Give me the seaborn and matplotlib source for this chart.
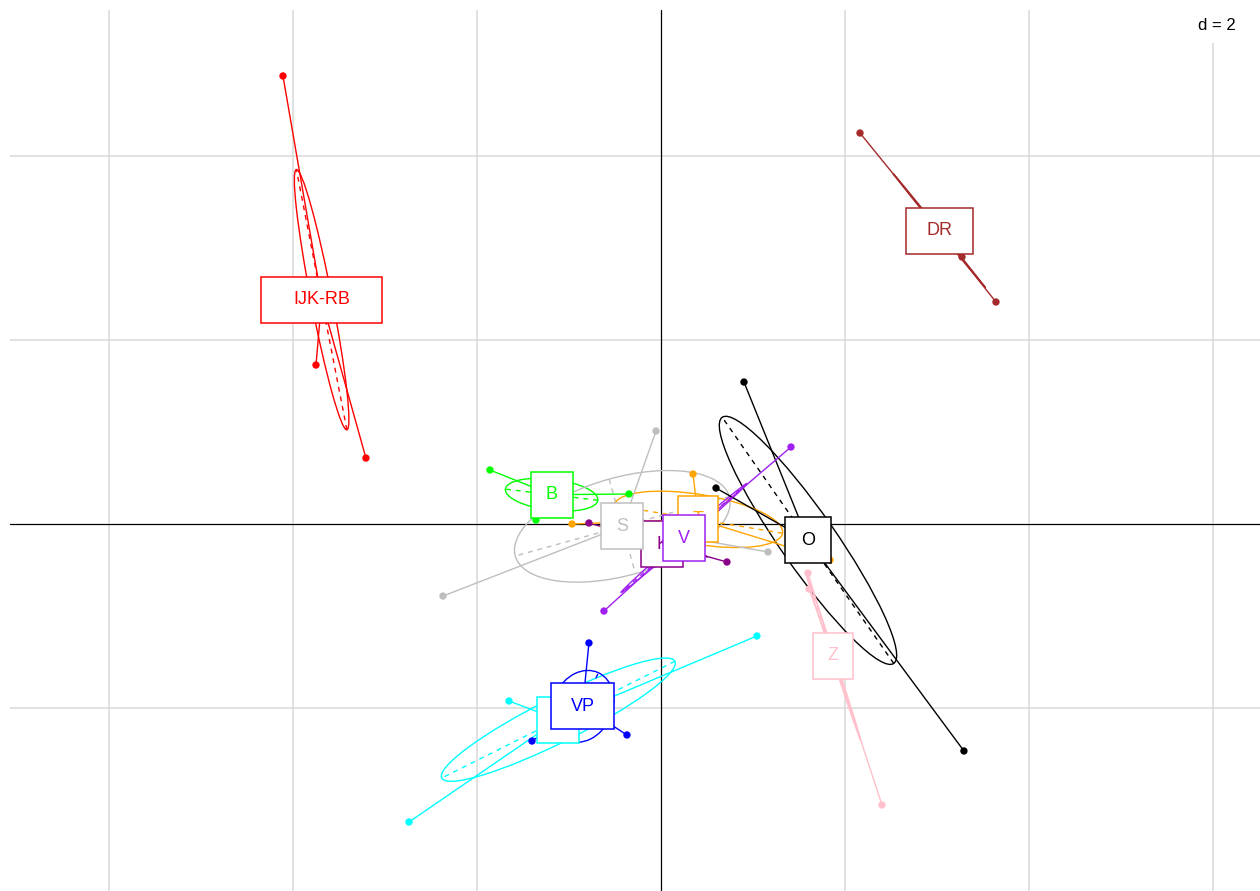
import numpy as np
import pandas as pd
import matplotlib
matplotlib.use("Agg")
import matplotlib.pyplot as plt
from matplotlib.patches import Ellipse, Rectangle
import seaborn as sns

# ---- data: scores of the sites on the first two axes, grouped by class ----
classes = ["B", "DR", "IJK-RB", "K", "O", "P", "S", "T", "V", "VP", "Z"]

class_colors = ["#00FF00", "#A52A2A", "#FF0000", "#8B008B", "#000000", "#00FFFF",
                "#BEBEBE", "#FFA500", "#A020F0", "#0000FF", "#FFC0CB"]

B_x = [-1.859, -1.359, -0.348]
B_y = [0.587, 0.043, 0.326]
DR_x = [2.163, 3.272, 3.641]
DR_y = [4.250, 2.902, 2.413]
IJK_RB_x = [-4.109, -3.750, -3.207]
IJK_RB_y = [4.870, 1.728, 0.717]
K_x = [-0.783, 0.717, 0.109]
K_y = [0.011, -0.413, -0.250]
O_x = [0.902, 0.598, 3.293]
O_y = [1.543, 0.391, -2.467]
P_x = [1.043, -1.652, -2.739]
P_y = [-1.217, -1.924, -3.239]
S_x = [-0.054, -2.370, 1.163]
S_y = [1.011, -0.783, -0.304]
T_x = [0.348, -0.967, 1.837]
T_y = [0.543, 0.000, -0.391]
V_x = [1.413, -0.620, -0.043]
V_y = [0.837, -0.946, -0.348]
VP_x = [-0.783, -0.370, -1.402]
VP_y = [-1.293, -2.293, -2.359]
Z_x = [1.598, 1.609, 2.402]
Z_y = [-0.533, -0.707, -3.054]

class_x = [B_x, DR_x, IJK_RB_x, K_x, O_x, P_x, S_x, T_x, V_x, VP_x, Z_x]
class_y = [B_y, DR_y, IJK_RB_y, K_y, O_y, P_y, S_y, T_y, V_y, VP_y, Z_y]

grid_step = 2          # "d = 2"
ellipse_size = 0.8     # ellipse semi-axes in standard deviations

rows = []
for name, xs, ys in zip(classes, class_x, class_y):
    for xv, yv in zip(xs, ys):
        rows.append({"class": name, "x": xv, "y": yv})
df = pd.DataFrame(rows)
palette = dict(zip(classes, class_colors))

# ---- figure ----
sns.set_theme(style="white")
plt.rcParams["font.family"] = ["Liberation Sans", "DejaVu Sans"]

W, H = 1260, 891
fig = plt.figure(figsize=(W / 100, H / 100), dpi=100)
ax = fig.add_axes([10 / W, 0.0, 1 - 10 / W, 1 - 10 / H])
xlim = (-7.076, 6.511)
ylim = (-3.989, 5.587)
ax.set_xlim(*xlim)
ax.set_ylim(*ylim)
for s in ax.spines.values():
    s.set_visible(False)
ax.set_xticks([])
ax.set_yticks([])

# background grid every d units
gx = np.arange(np.ceil(xlim[0] / grid_step) * grid_step, xlim[1], grid_step)
gy = np.arange(np.ceil(ylim[0] / grid_step) * grid_step, ylim[1], grid_step)
for v in gx:
    if v != 0:
        ax.axvline(v, color="#D9D9D9", lw=1.1, zorder=0)
for v in gy:
    if v != 0:
        ax.axhline(v, color="#D9D9D9", lw=1.1, zorder=0)
ax.axvline(0, color="black", lw=0.9, zorder=1)
ax.axhline(0, color="black", lw=0.9, zorder=1)

# ellipses, their axes and the stars
centers = df.groupby("class", sort=False)[["x", "y"]].mean()
for name in classes:
    col = palette[name]
    sub = df[df["class"] == name]
    pts = sub[["x", "y"]].to_numpy()
    c = centers.loc[name].to_numpy()
    cov = np.cov(pts.T, bias=True)
    vals, vecs = np.linalg.eigh(cov)
    vals = np.clip(vals, 0, None)
    order = np.argsort(vals)[::-1]
    vals, vecs = vals[order], vecs[:, order]
    a, b = ellipse_size * np.sqrt(vals)
    ang = np.degrees(np.arctan2(vecs[1, 0], vecs[0, 0]))
    ax.add_patch(Ellipse(c, 2 * a, 2 * b, angle=ang, fill=False,
                         edgecolor=col, lw=1.0, zorder=2))
    for k, r in zip(range(2), (a, b)):
        v = vecs[:, k] * r
        ax.plot([c[0] - v[0], c[0] + v[0]], [c[1] - v[1], c[1] + v[1]],
                color=col, lw=1.0, ls=(0, (3.5, 3.5)), zorder=2)
    for px, py in pts:
        ax.plot([c[0], px], [c[1], py], color=col, lw=1.0, zorder=3)

sns.scatterplot(data=df, x="x", y="y", hue="class", palette=palette,
                s=28, edgecolor="none", legend=False, ax=ax, zorder=4)
ax.set_xlabel("")
ax.set_ylabel("")

# class labels in framed boxes
fig.canvas.draw()
renderer = fig.canvas.get_renderer()
ux = ax.bbox.width / (xlim[1] - xlim[0])
uy = ax.bbox.height / (ylim[1] - ylim[0])
for i, name in enumerate(classes):
    col = palette[name]
    c = centers.loc[name].to_numpy()
    t = ax.text(c[0], c[1], name, color=col, fontsize=13, ha="center",
                va="center", zorder=11 + 2 * i)
    tw = t.get_window_extent(renderer).width
    bw = (1.75 * tw + 21) / ux
    bh = 46 / uy
    ax.add_patch(Rectangle((c[0] - bw / 2, c[1] - bh / 2), bw, bh,
                           facecolor="white", edgecolor=col, lw=1.1,
                           zorder=10 + 2 * i))

ax.text(0.981, 0.991, "d = %d" % grid_step, transform=ax.transAxes,
        ha="right", va="top", fontsize=12, color="black", zorder=40,
        bbox=dict(facecolor="white", edgecolor="none", pad=7))

fig.savefig("out.png", dpi=100)
